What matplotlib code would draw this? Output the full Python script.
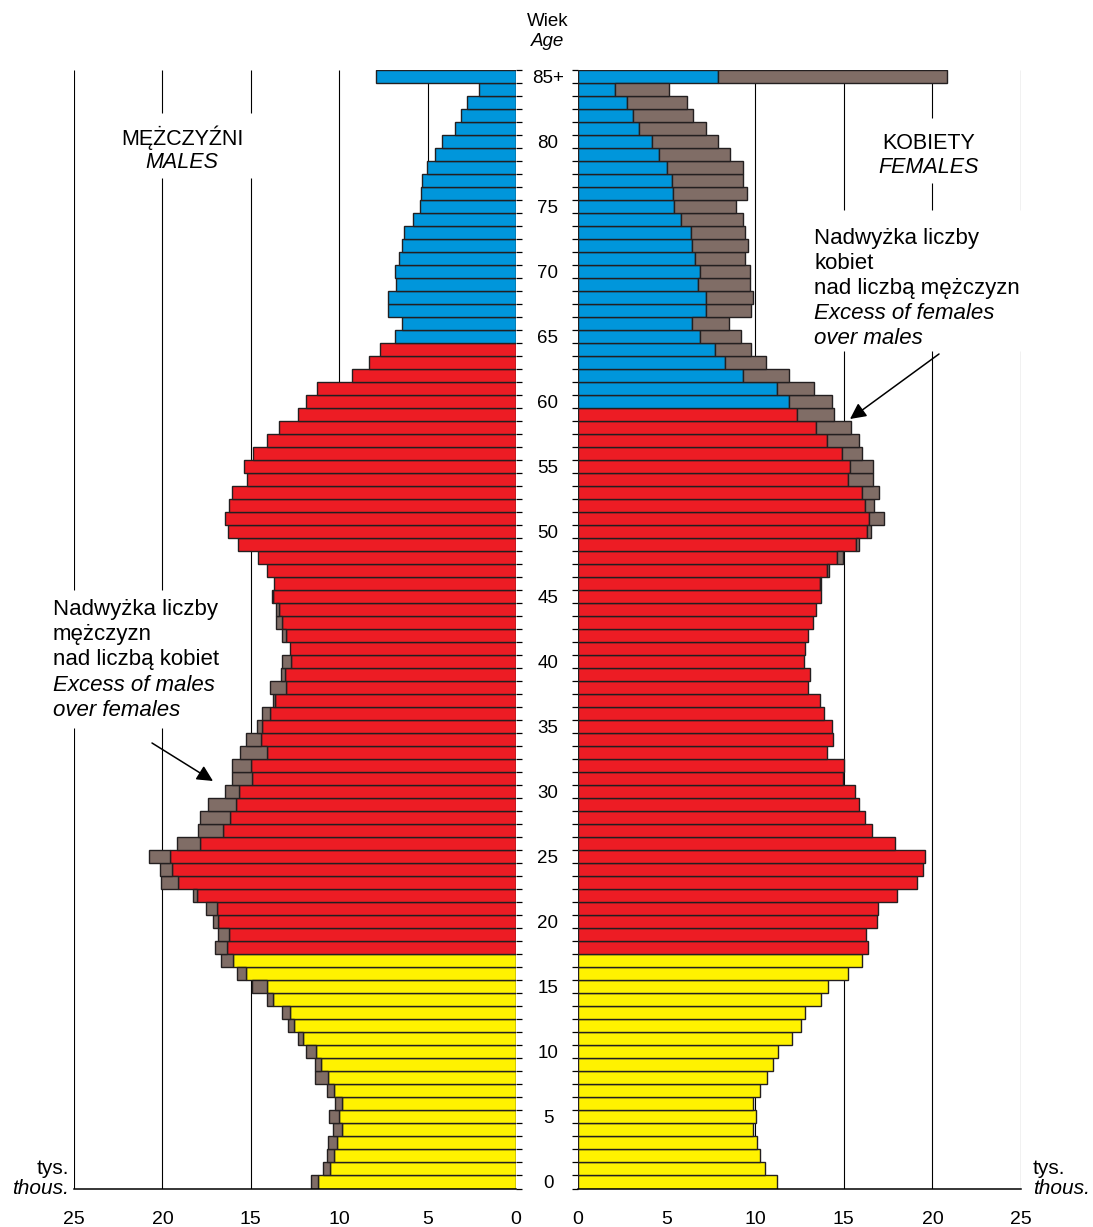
import numpy as np
import matplotlib
matplotlib.use("Agg")
import matplotlib.pyplot as plt
import matplotlib.transforms as mtransforms

plt.rcParams['font.family'] = ['Liberation Sans', 'DejaVu Sans']

# population in thousands, index = age 0..84, last = 85+
ages = np.arange(86)
males = [11.57, 10.89, 10.71, 10.65, 10.33, 10.56, 10.24, 10.71, 11.39, 11.36,
         11.86, 12.34, 12.90, 13.22, 14.08, 14.94, 15.77, 16.69, 17.01, 16.86,
         17.16, 17.54, 18.28, 20.06, 20.15, 20.74, 19.20, 17.96, 17.87, 17.40,
         16.45, 16.04, 16.04, 15.62, 15.27, 14.67, 14.35, 13.76, 13.91, 13.31,
         13.22, 12.81, 13.22, 13.58, 13.58, 13.82, 13.67, 14.08, 14.62, 15.71,
         16.30, 16.45, 16.21, 16.04, 15.24, 15.36, 14.88, 14.08, 13.43, 12.34,
         11.89, 11.24, 9.29, 8.31, 7.72, 6.86, 6.45, 7.22, 7.22, 6.78,
         6.86, 6.63, 6.45, 6.36, 5.80, 5.44, 5.38, 5.30, 5.03, 4.59,
         4.17, 3.43, 3.11, 2.78, 2.10, 7.90]
females = [11.21, 10.53, 10.29, 10.12, 9.85, 10.03, 9.85, 10.29, 10.65, 11.03,
           11.29, 12.06, 12.56, 12.79, 13.74, 14.09, 15.26, 16.00, 16.35, 16.26,
           16.85, 16.94, 18.03, 19.12, 19.47, 19.56, 17.88, 16.59, 16.18, 15.85,
           15.65, 14.94, 15.00, 14.06, 14.41, 14.35, 13.91, 13.65, 13.00, 13.09,
           12.74, 12.82, 13.00, 13.24, 13.41, 13.74, 13.74, 14.18, 14.94, 15.88,
           16.53, 17.29, 16.71, 16.97, 16.62, 16.62, 16.03, 15.88, 15.41, 14.44,
           14.35, 13.32, 11.88, 10.62, 9.79, 9.18, 8.50, 9.79, 9.85, 9.68,
           9.68, 9.44, 9.62, 9.44, 9.29, 8.94, 9.53, 9.29, 9.29, 8.59,
           7.91, 7.24, 6.47, 6.15, 5.12, 20.82]
age_labels = {0: "0", 5: "5", 10: "10", 15: "15", 20: "20", 25: "25", 30: "30",
              35: "35", 40: "40", 45: "45", 50: "50", 55: "55", 60: "60",
              65: "65", 70: "70", 75: "75", 80: "80", 85: "85+"}
x_ticks = [0, 5, 10, 15, 20, 25]

BLUE = '#0096DB'
RED = '#ED1C24'
YELLOW = '#FFF200'
BROWN = '#806D66'
EDGE = '#231F20'

males = np.array(males)
females = np.array(females)
common = np.minimum(males, females)


def age_color(a, retire):
    if a < 18:
        return YELLOW
    if a < retire:
        return RED
    return BLUE


fig = plt.figure(figsize=(10.93, 12.27), dpi=100)
W, H = 1093.0, 1227.0
bot = (H - 1188.5) / H
hgt = (1188.5 - 70) / H
ax_m = fig.add_axes([74 / W, bot, 442 / W, hgt])
ax_f = fig.add_axes([578 / W, bot, 443 / W, hgt])


def grid_line(ax, x, gaps):
    lo = -0.5
    for g0, g1 in sorted(gaps):
        ax.vlines(x, lo, g0, color='black', lw=0.8, zorder=1)
        lo = g1
    ax.vlines(x, lo, 85.5, color='black', lw=0.8, zorder=1)


left_gaps = {5: [], 10: [], 15: [(77.2, 82.2)], 20: [(77.2, 82.2), (34.9, 45.5)],
             25: [(34.9, 45.5)]}
right_gaps = {5: [], 10: [], 15: [(63.9, 74.7)], 20: [(76.8, 81.8), (63.9, 74.7)],
              25: [(63.9, 74.7)]}

for ax, data, retire, gaps in [(ax_m, males, 65, left_gaps),
                               (ax_f, females, 60, right_gaps)]:
    for x, g in gaps.items():
        grid_line(ax, x, g)
    cols = [age_color(a, retire) for a in ages]
    ax.barh(ages, common, height=1.0, color=cols, edgecolor=EDGE, linewidth=1.0, zorder=2)
    extra = data - common
    mask = extra > 0.01
    ax.barh(ages[mask], extra[mask], left=common[mask], height=1.0, color=BROWN,
            edgecolor=EDGE, linewidth=1.0, zorder=2)
    ax.set_ylim(-0.5, 85.5)
    for s in ['top', 'left', 'right']:
        ax.spines[s].set_visible(False)
    ax.spines['bottom'].set_linewidth(1.1)
    ax.spines['bottom'].set_zorder(3)
    ax.set_xticks(x_ticks)
    ax.set_xticklabels([str(t) for t in x_ticks], fontsize=14)
    ax.tick_params(axis='x', length=0, pad=16.5)
    ax.set_yticks(np.arange(-0.5, 86, 1))
    ax.patch.set_alpha(0)

ax_m.set_xlim(25, 0)
ax_f.set_xlim(0, 25)
ax_m.yaxis.tick_right()
ax_m.tick_params(axis='y', length=4, width=0.9, direction='out', labelright=False)
ax_f.yaxis.tick_left()
ax_f.tick_params(axis='y', length=4, width=0.9, direction='out', labelleft=False)

# age labels in the middle
tr = mtransforms.blended_transform_factory(fig.transFigure, ax_m.transData)
for a, lbl in age_labels.items():
    fig.text(548 / W, a, lbl, transform=tr, ha='center', va='center_baseline', fontsize=13.5)

# overlay in pixel coordinates for texts and arrows
ov = fig.add_axes([0, 0, 1, 1])
ov.set_xlim(0, W)
ov.set_ylim(H, 0)
ov.axis('off')
ov.patch.set_alpha(0)

ov.text(548, 26, "Wiek", ha='center', va='baseline', fontsize=13.5)
ov.text(548, 46, "Age", ha='center', va='baseline', fontsize=13.5, style='italic')

ov.text(182, 144.5, "MĘŻCZYŹNI", ha='center', va='baseline', fontsize=15.5)
ov.text(182, 167.5, "MALES", ha='center', va='baseline', fontsize=15.5, style='italic')
ov.text(929, 149, "KOBIETY", ha='center', va='baseline', fontsize=15.5)
ov.text(929, 173, "FEMALES", ha='center', va='baseline', fontsize=15.5, style='italic')

right_note = ["Nadwyżka liczby", "kobiet", "nad liczbą mężczyzn",
              "Excess of females", "over males"]
left_note = ["Nadwyżka liczby", "mężczyzn", "nad liczbą kobiet",
             "Excess of males", "over females"]
for i, line in enumerate(right_note):
    ov.text(814, 244 + 25 * i, line, ha='left', va='baseline', fontsize=16,
            style='italic' if i >= 3 else 'normal')
for i, line in enumerate(left_note):
    ov.text(53, 615 + 25.2 * i, line, ha='left', va='baseline', fontsize=16,
            style='italic' if i >= 3 else 'normal')

arrow = dict(arrowstyle='-|>', mutation_scale=24, lw=1.1, color='black',
             shrinkA=0, shrinkB=0)
ov.annotate("", xy=(850, 419), xytext=(939, 354), arrowprops=arrow)
ov.annotate("", xy=(213, 781), xytext=(152, 743), arrowprops=arrow)

ov.text(69, 1174, "tys.", ha='right', va='baseline', fontsize=15)
ov.text(69, 1194, "thous.", ha='right', va='baseline', fontsize=15, style='italic')
ov.text(1033, 1174, "tys.", ha='left', va='baseline', fontsize=15)
ov.text(1033, 1194, "thous.", ha='left', va='baseline', fontsize=15, style='italic')

fig.savefig("out.png", dpi=100)
